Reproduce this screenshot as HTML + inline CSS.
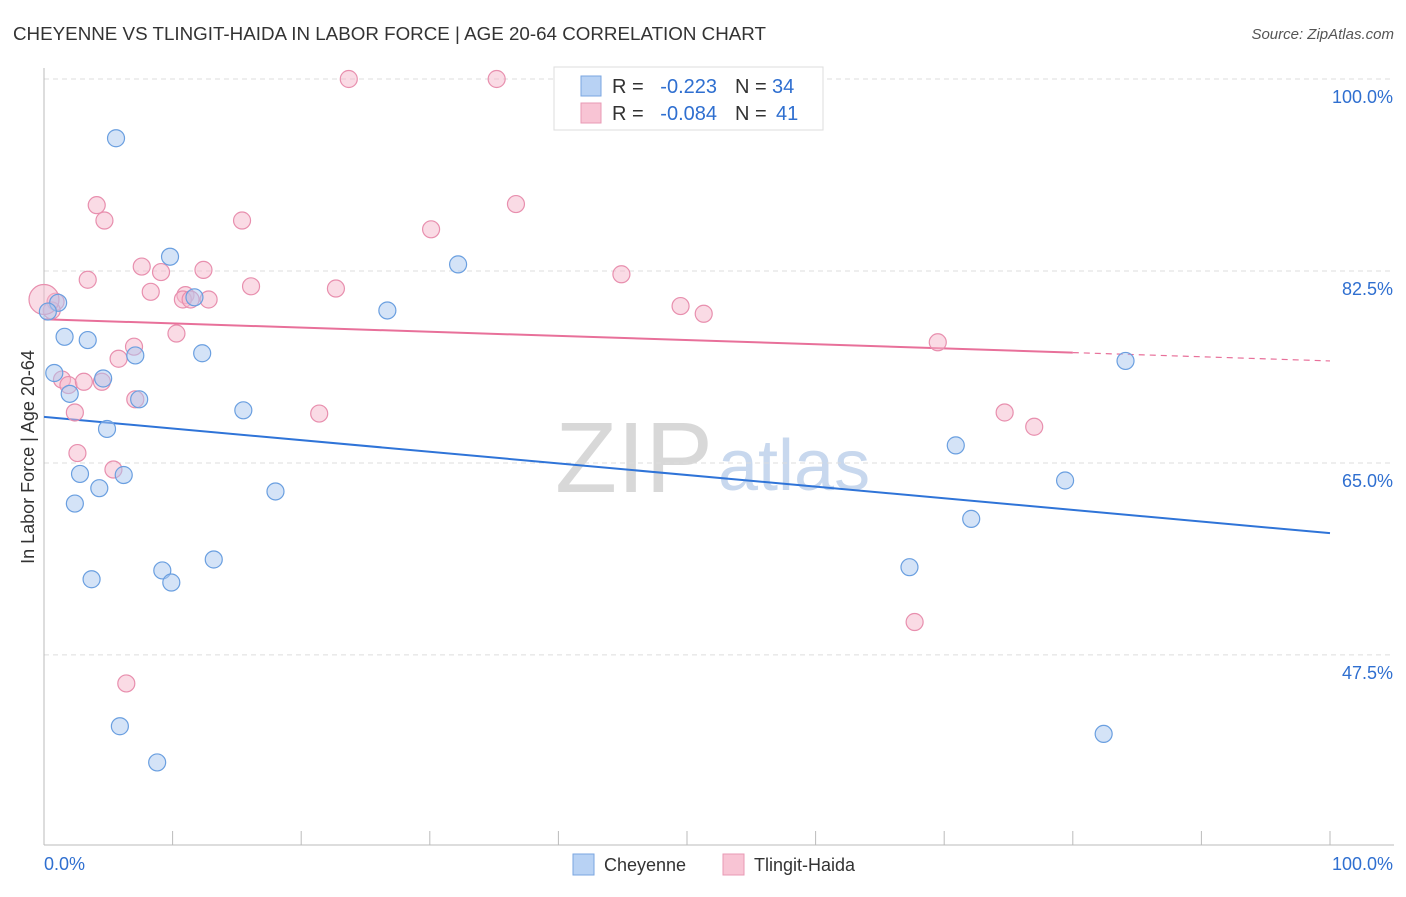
<!DOCTYPE html>
<html><head><meta charset="utf-8"><style>
body{margin:0;background:#fff;font-family:"Liberation Sans",sans-serif;}
svg text{font-family:"Liberation Sans",sans-serif;}
</style></head><body>
<svg id="chart" width="1406" height="892">
<text x="13" y="40" font-size="18" fill="#333" textLength="753" lengthAdjust="spacingAndGlyphs">CHEYENNE VS TLINGIT-HAIDA IN LABOR FORCE | AGE 20-64 CORRELATION CHART</text>
<text x="1394" y="39" font-size="15" fill="#555" text-anchor="end" font-style="italic">Source: ZipAtlas.com</text>
<text x="555" y="492" font-size="100" fill="#d8d8d8" textLength="158" lengthAdjust="spacingAndGlyphs" font-family="Liberation Serif">ZIP</text>
<text x="718" y="490" font-size="72" fill="#c8d8ee">atlas</text>
<g id="grid"></g><g id="axes"></g><g id="lines"></g><g id="pts"></g>
<text transform="translate(34,457) rotate(-90)" font-size="18" fill="#333" text-anchor="middle">In Labor Force | Age 20-64</text>
<g>
<rect x="554" y="67" width="269" height="63" fill="#fff" stroke="#ddd"/>
<rect x="581" y="76" width="20" height="20" fill="#b8d2f4" stroke="#7aa6e0"/>
<rect x="581" y="103" width="20" height="20" fill="#f8c4d4" stroke="#e89ab4"/>
<text x="612" y="93" font-size="20" fill="#333">R = </text>
<text x="717" y="93" font-size="20" fill="#2f6fd0" text-anchor="end">-0.223</text>
<text x="735" y="93" font-size="20" fill="#333">N = </text>
<text x="772" y="93" font-size="20" fill="#2f6fd0">34</text>
<text x="612" y="120" font-size="20" fill="#333">R = </text>
<text x="717" y="120" font-size="20" fill="#2f6fd0" text-anchor="end">-0.084</text>
<text x="735" y="120" font-size="20" fill="#333">N = </text>
<text x="776" y="120" font-size="20" fill="#2f6fd0">41</text>
</g>
<g>
<rect x="573" y="854" width="21" height="21" fill="#b8d2f4" stroke="#7aa6e0"/>
<text x="604" y="871" font-size="18" fill="#333">Cheyenne</text>
<rect x="723" y="854" width="21" height="21" fill="#f8c4d4" stroke="#e89ab4"/>
<text x="754" y="871" font-size="18" fill="#333">Tlingit-Haida</text>
</g>
</svg>
<script>
const yTicks=[100,82.5,65,47.5];
const yTickLabels=["100.0%","82.5%","65.0%","47.5%"];
const blueX=[5.6,9.8,32.2,11.7,1.1,0.3,26.7,1.6,3.4,12.3,7.1,0.8,4.6,2.0,7.4,15.5,4.9,70.9,2.8,6.2,4.3,18.0,79.4,2.4,72.1,13.2,9.2,9.9,3.7,67.3,84.1,5.9,8.8,82.4];
const blueY=[94.6,83.8,83.1,80.1,79.6,78.8,78.9,76.5,76.2,75.0,74.8,73.2,72.7,71.3,70.8,69.8,68.1,66.6,64.0,63.9,62.7,62.4,63.4,61.3,59.9,56.2,55.2,54.1,54.4,55.5,74.3,41.0,37.7,40.3];
const pinkX=[23.7,35.2,4.1,36.7,4.7,15.4,30.1,7.6,9.1,12.4,3.4,44.9,16.1,22.7,8.3,11.0,10.8,11.4,12.8,0.9,0.6,49.5,51.3,10.3,69.5,7.0,5.8,1.4,1.9,3.1,4.5,7.1,21.4,2.4,74.7,77.0,2.6,5.4,67.7,6.4,0];
const pinkY=[100,100,88.5,88.6,87.1,87.1,86.3,82.9,82.4,82.6,81.7,82.2,81.1,80.9,80.6,80.3,79.9,79.9,79.9,79.7,78.9,79.3,78.6,76.8,76.0,75.6,74.5,72.6,72.1,72.4,72.4,70.8,69.5,69.6,69.6,68.3,65.9,64.4,50.5,44.9,79.9];
const blueTrend=[69.2,58.6];
const pinkTrend=[78.1,74.3];
const pinkSolidEnd=80;
const X=v=>44+v*12.86, Y=v=>79+(100-v)*10.97;
const NS="http://www.w3.org/2000/svg";
function mk(t,a,p){const e=document.createElementNS(NS,t);for(const k in a)e.setAttribute(k,a[k]);document.getElementById(p).appendChild(e);return e;}
yTicks.forEach((t,i)=>{
 const l=mk('line',{x1:44,x2:1394,y1:Y(t),y2:Y(t),stroke:'#ddd','stroke-dasharray':'5,4'},'grid');
 
 
 const tx=mk('text',{x:1393,y:Y(t)+24,'font-size':18,fill:'#2f6fd0','text-anchor':'end'},'axes');
 tx.textContent=yTickLabels[i];
 
 
});
let a=mk('line',{x1:44,x2:44,y1:68,y2:845,stroke:'#bbb'},'axes');


a=mk('line',{x1:44,x2:1394,y1:845,y2:845,stroke:'#bbb'},'axes');


for(let i=0;i<=10;i++){const t=mk('line',{x1:X(i*10),x2:X(i*10),y1:831,y2:845,stroke:'#bbb'},'axes');
 
 }
[["0.0%",44,'start'],["100.0%",1393,'end']].forEach(d=>{const t=mk('text',{x:d[1],y:870,'font-size':18,fill:'#2f6fd0','text-anchor':d[2]},'axes');t.textContent=d[0];
 
 });
function pts(xs,ys,f,s,name){xs.forEach((x,i)=>{const c=mk('circle',{cx:X(x),cy:Y(ys[i]),r:(x===0?15:8.5),fill:f,'fill-opacity':0.5,stroke:s,'stroke-width':1.2},'pts');
 
 });}
pts(pinkX,pinkY,'#f5b8cb','#e88fae','tlingit-point');
pts(blueX,blueY,'#aac8f0','#6a9fe0','cheyenne-point');
const pm=pinkTrend[0]+(pinkTrend[1]-pinkTrend[0])*pinkSolidEnd/100;
let ln=mk('line',{x1:X(0),y1:Y(blueTrend[0]),x2:X(100),y2:Y(blueTrend[1]),stroke:'#2f74d8','stroke-width':2},'lines');


ln=mk('line',{x1:X(0),y1:Y(pinkTrend[0]),x2:X(pinkSolidEnd),y2:Y(pm),stroke:'#e8709a','stroke-width':2},'lines');


ln=mk('line',{x1:X(pinkSolidEnd),y1:Y(pm),x2:X(100),y2:Y(pinkTrend[1]),stroke:'#e8709a','stroke-width':1.2,'stroke-dasharray':'6,5'},'lines');


</script>
</body></html>
